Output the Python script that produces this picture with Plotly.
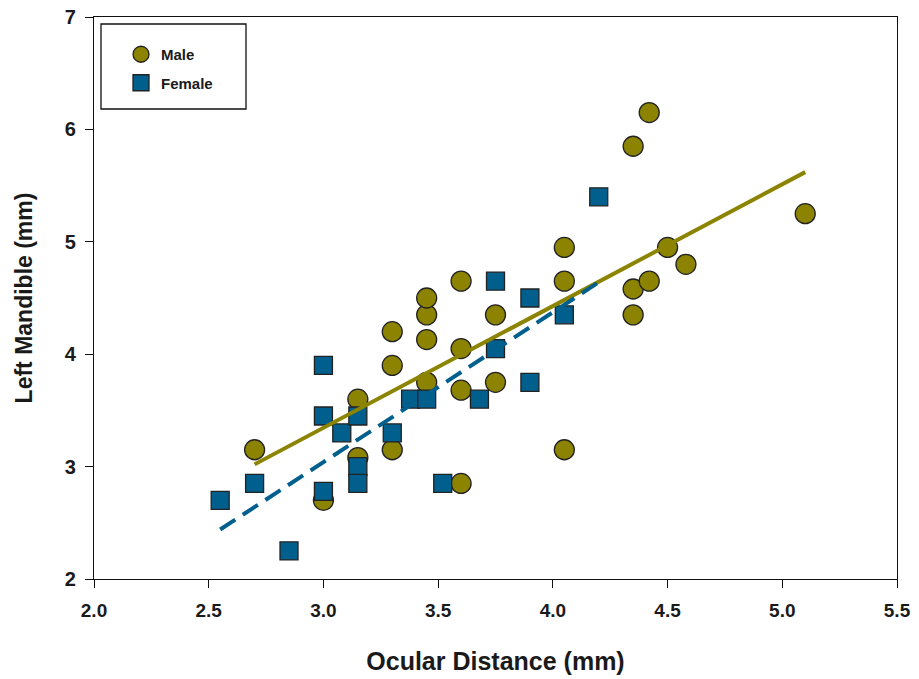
import plotly.graph_objects as go

# Male data (Ocular distance, Left mandible)
male_x = [2.7, 3.0, 3.15, 3.15, 3.3, 3.3, 3.3, 3.45, 3.45, 3.45, 3.45, 3.6, 3.6, 3.6,
          3.6, 3.75, 3.75, 4.05, 4.05, 4.05, 4.35, 4.35, 4.35, 4.42, 4.42, 4.5, 4.58, 5.1]
male_y = [3.15, 2.7, 3.08, 3.6, 3.15, 3.9, 4.2, 3.75, 4.13, 4.35, 4.5, 2.85, 3.68, 4.05,
          4.65, 3.75, 4.35, 3.15, 4.65, 4.95, 4.35, 4.58, 5.85, 4.65, 6.15, 4.95, 4.8, 5.25]

# Female data
female_x = [2.55, 2.7, 2.85, 3.0, 3.0, 3.0, 3.08, 3.15, 3.15, 3.15, 3.3, 3.38, 3.45,
            3.52, 3.68, 3.75, 3.75, 3.9, 3.9, 4.05, 4.2]
female_y = [2.7, 2.85, 2.25, 3.9, 3.45, 2.78, 3.3, 3.45, 3.0, 2.85, 3.3, 3.6, 3.6,
            2.85, 3.6, 4.65, 4.05, 4.5, 3.75, 4.35, 5.4]

# Regression line end points
male_fit_x = [2.7, 5.1]
male_fit_y = [3.02, 5.62]
female_fit_x = [2.55, 4.2]
female_fit_y = [2.44, 4.64]

x_ticks = [2.0, 2.5, 3.0, 3.5, 4.0, 4.5, 5.0, 5.5]
y_ticks = [2, 3, 4, 5, 6, 7]

OLIVE = "#8C8400"
BLUE = "#005F8C"
EDGE = "#222222"
TXT = "#1a1a1a"

W, H = 919, 679
L, R, T, B = 94, 22, 17, 100
PW, PH = W - L - R, H - T - B

def px_x(p):
    return (p - L) / PW

def px_y(p):
    return 1 - (p - T) / PH

fig = go.Figure()
fig.add_trace(go.Scatter(
    x=male_x, y=male_y, mode="markers", name="Male", legendgroup="m",
    marker=dict(symbol="circle", size=20, color=OLIVE, line=dict(color=EDGE, width=1.3)),
))
fig.add_trace(go.Scatter(
    x=female_x, y=female_y, mode="markers", name="Female", legendgroup="f",
    marker=dict(symbol="square", size=18, color=BLUE, line=dict(color=EDGE, width=1.3)),
))
fig.add_trace(go.Scatter(
    x=male_fit_x, y=male_fit_y, mode="lines", showlegend=False, hoverinfo="skip",
    line=dict(color=OLIVE, width=4),
))
fig.add_trace(go.Scatter(
    x=female_fit_x, y=female_fit_y, mode="lines", showlegend=False, hoverinfo="skip",
    line=dict(color=BLUE, width=4, dash="18px,9px"),
))

axis_common = dict(
    showline=True, linecolor="#111111", linewidth=1.3, mirror=True,
    ticks="outside", ticklen=8, tickwidth=1.3, tickcolor="#111111",
    showgrid=False, zeroline=False, automargin=False,
)

fig.update_layout(
    width=W, height=H,
    margin=dict(l=L, r=R, t=T, b=B),
    plot_bgcolor="white", paper_bgcolor="white",
    xaxis=dict(
        range=[2.0, 5.5], tickvals=x_ticks, ticktext=[f"{v:.1f}" for v in x_ticks],
        tickfont=dict(family="Liberation Sans Narrow, Arial Narrow, Liberation Sans", size=19,
                      color=TXT, weight="bold"),
        ticklabelstandoff=6,
        title=dict(text="Ocular Distance (mm)", standoff=32,
                   font=dict(family="Liberation Sans, Arial", size=25, color=TXT, weight="bold")),
        **axis_common,
    ),
    yaxis=dict(
        range=[2, 7], tickvals=y_ticks,
        tickfont=dict(family="Liberation Sans, Arial", size=20, color=TXT, weight="bold"),
        ticklabelstandoff=5,
        title=dict(text="Left Mandible (mm)", standoff=25,
                   font=dict(family="Liberation Sans, Arial", size=23, color=TXT, weight="bold")),
        **axis_common,
    ),
    legend=dict(
        x=px_x(121), y=px_y(38), xanchor="left", yanchor="top",
        borderwidth=0, bgcolor="rgba(0,0,0,0)",
        font=dict(family="Liberation Sans, Arial", size=15, color=TXT, weight="bold"),
        itemsizing="trace", tracegroupgap=6,
    ),
    shapes=[dict(
        type="rect", xref="paper", yref="paper",
        x0=px_x(101), x1=px_x(246), y0=px_y(109), y1=px_y(24),
        line=dict(color="#111111", width=1.3), fillcolor="white", layer="above",
    )],
)

fig.write_html(
    "out.html",
    config={"displayModeBar": False},
    post_script="document.body.style.margin='0';document.body.style.overflow='hidden';",
)
